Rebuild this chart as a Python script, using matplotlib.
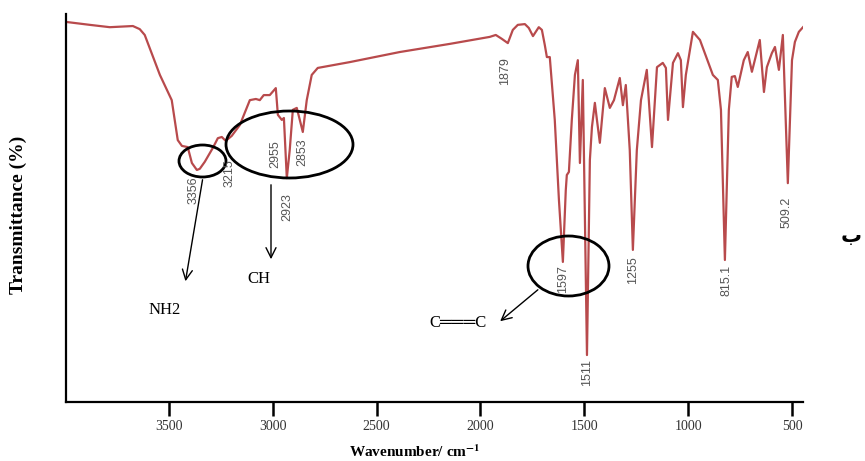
import matplotlib
matplotlib.use('Agg')
import matplotlib.pyplot as plt
from matplotlib.patches import Ellipse

# FTIR spectrum
wavenumber = [3986, 3880, 3784, 3673, 3640, 3616, 3543, 3486, 3457, 3437,
              3409, 3389, 3365, 3351, 3327, 3288, 3264, 3245, 3226, 3197,
              3158, 3110, 3081, 3062, 3043, 3014, 2985, 2975, 2956, 2946,
              2932, 2918, 2903, 2884, 2855, 2836, 2812, 2783, 2629, 2388,
              2147, 1955, 1926, 1897, 1868, 1844, 1820, 1786, 1767, 1747,
              1719, 1704, 1690, 1680, 1666, 1642, 1622, 1603, 1589, 1584,
              1574, 1560, 1545, 1531, 1521, 1507, 1487, 1473, 1463, 1449,
              1439, 1425, 1401, 1377, 1357, 1329, 1314, 1300, 1281, 1266,
              1247, 1227, 1199, 1174, 1150, 1122, 1107, 1097, 1073, 1049,
              1035, 1025, 1011, 977, 943, 881, 857, 842, 823, 804,
              790, 775, 761, 732, 713, 693, 679, 655, 635, 621,
              597, 582, 563, 544, 520, 500, 486, 467, 447]
transmittance = [97.9, 97.2, 96.6, 96.9, 96.1, 94.6, 84.3, 77.8, 67.5, 66.0,
                 65.7, 61.6, 59.8, 60.1, 61.9, 65.5, 68.0, 68.3, 67.3, 68.6,
                 71.4, 77.8, 78.1, 77.8, 79.1, 79.1, 80.9, 74.0, 72.7, 73.2,
                 57.7, 64.9, 75.3, 75.8, 69.6, 77.8, 84.3, 86.1, 87.6, 90.2,
                 92.3, 94.1, 94.6, 93.6, 92.5, 95.9, 97.2, 97.4, 96.4, 94.3,
                 96.6, 95.9, 92.0, 88.9, 88.9, 72.7, 52.1, 36.1, 54.6, 58.5,
                 59.3, 72.7, 84.3, 88.1, 61.6, 83.0, 12.1, 62.4, 70.9, 77.1,
                 72.7, 66.8, 80.9, 75.8, 77.8, 83.5, 76.5, 81.7, 64.9, 39.2,
                 64.9, 77.8, 85.6, 65.7, 86.3, 87.4, 86.1, 72.7, 87.4, 89.9,
                 88.1, 76.0, 84.3, 95.4, 93.3, 84.3, 83.0, 75.3, 36.6, 75.3,
                 83.8, 84.0, 81.2, 88.1, 90.2, 85.1, 88.1, 93.3, 79.9, 86.3,
                 89.9, 91.5, 85.6, 94.6, 56.4, 88.1, 92.8, 95.4, 96.6]

x_ticks = [3500, 3000, 2500, 2000, 1500, 1000, 500]

peak_labels = ['3356', '3215', '2955', '2853', '2923', '1879',
               '1597', '1511', '1255', '815.1', '509.2']
# label centres in pixels of the 865x461 picture
peak_pos = [(194, 190), (230, 173), (275, 154), (302, 152), (287, 207), (505, 71),
            (563, 279), (587, 372), (633, 270), (726, 280), (787, 212)]

W, H = 865, 461


def fx(px):
    return px / W


def fy(py):
    return 1 - py / H


serif = ['Liberation Serif', 'DejaVu Serif']
sans = ['Liberation Sans', 'DejaVu Sans']
plt.rcParams['mathtext.fontset'] = 'stix'

fig = plt.figure(figsize=(8.65, 4.61), dpi=100)
ax = fig.add_axes([fx(66), fy(402), fx(803) - fx(66), fy(14) - fy(402)])

ax.plot(wavenumber, transmittance, color='#b84a4c', lw=1.6)
ax.set_xlim(3995, 447)
ax.set_ylim(0, 100)

for s in ['top', 'right']:
    ax.spines[s].set_visible(False)
for s in ['left', 'bottom']:
    ax.spines[s].set_linewidth(1.6)
ax.set_yticks([])
ax.set_xticks(x_ticks)
ax.set_xticklabels([str(t) for t in x_ticks], family=serif, fontsize=10, color='#333333')
ax.tick_params(axis='x', length=10, width=1.8, pad=3, direction='out')

fig.text(fx(18), fy(215), 'Transmittance (%)', rotation=90, ha='center', va='center',
         family=serif, fontweight='bold', fontsize=14)
fig.text(fx(415), fy(452), r'Wavenumber/ cm$^{\mathbf{-1}}$', ha='center', va='center',
         family=serif, fontweight='bold', fontsize=11)

for lab, (px, py) in zip(peak_labels, peak_pos):
    fig.text(fx(px), fy(py), lab, rotation=90, ha='center', va='center',
             family=sans, fontsize=9, color='#555555')

# circled groups
for (cx, cy, w, h) in [(202.5, 161, 47, 32), (289.5, 144.5, 127, 67), (568.5, 266, 81, 60)]:
    fig.patches.append(Ellipse((fx(cx), fy(cy)), w / W, h / H, transform=fig.transFigure,
                               fill=False, edgecolor='black', lw=2))

arrow = dict(arrowstyle='->', color='black', lw=1, mutation_scale=18)
for (x0, y0, x1, y1) in [(203, 177, 185, 284), (271, 182, 271, 262), (540, 288, 498, 323)]:
    fig.add_artist(plt.Annotation('', xy=(fx(x1), fy(y1)), xytext=(fx(x0), fy(y0)),
                                  xycoords='figure fraction', textcoords='figure fraction',
                                  arrowprops=arrow))

fig.text(fx(165), fy(310), 'NH2', ha='center', va='center', family=serif, fontsize=12)
fig.text(fx(259), fy(279), 'CH', ha='center', va='center', family=serif, fontsize=12)
fig.text(fx(458), fy(323), 'C\u2550\u2550\u2550C', ha='center', va='center',
         family=['Liberation Serif', 'DejaVu Sans'], fontsize=12)

fig.text(fx(851), fy(236), '\u0628', ha='center', va='center',
         family=['DejaVu Sans'], fontweight='bold', fontsize=15)

fig.savefig('out.png', dpi=100)
